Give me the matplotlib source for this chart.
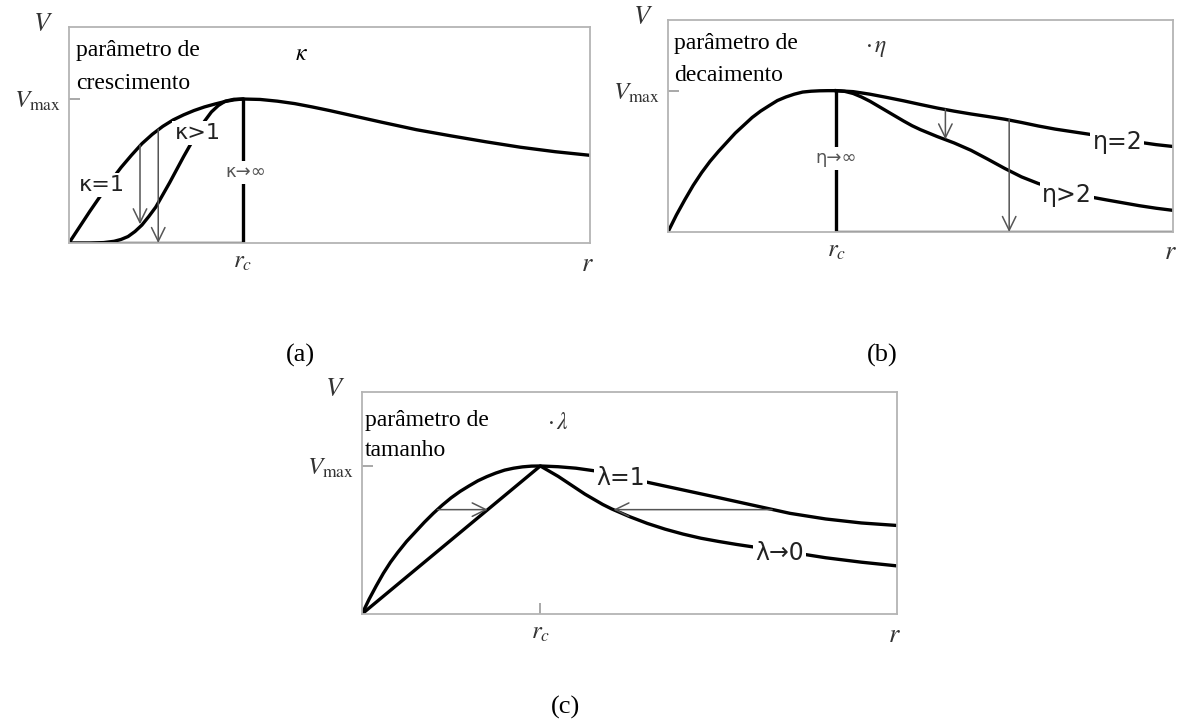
import matplotlib.pyplot as plt

plt.rcParams['font.family'] = ['Liberation Serif', 'DejaVu Serif']
plt.rcParams['mathtext.fontset'] = 'stix'

# ---- data (r in units of r_c, V in units of V_max) ----
# panel (a): growth parameter kappa
a_k1_r = [0, 0.06, 0.12, 0.18, 0.24, 0.3, 0.36, 0.42, 0.48, 0.54, 0.6, 0.66,
          0.72, 0.78, 0.84, 0.9, 0.95, 1.0,
          1.1, 1.2, 1.3, 1.4, 1.5, 1.6, 1.8, 2.0, 2.2, 2.4, 2.6, 2.8, 3.0]
a_k1_v = [0, 0.11, 0.22, 0.325, 0.43, 0.525, 0.61, 0.69, 0.755, 0.81, 0.855, 0.89,
          0.92, 0.945, 0.965, 0.983, 0.994, 1.0,
          0.997, 0.985, 0.968, 0.945, 0.92, 0.893, 0.839, 0.787, 0.744, 0.703,
          0.665, 0.634, 0.609]
a_kg_r = [0, 0.12, 0.2, 0.26, 0.3, 0.34, 0.38, 0.42, 0.46, 0.5, 0.54, 0.58,
          0.62, 0.66, 0.7, 0.74, 0.78, 0.82, 0.86, 0.9, 0.95, 1.0]
a_kg_v = [0, 0, 0.003, 0.012, 0.025, 0.045, 0.08, 0.125, 0.185, 0.25, 0.335, 0.42,
          0.51, 0.6, 0.685, 0.77, 0.845, 0.91, 0.955, 0.985, 0.998, 1.0]
a_kinf_r = [0, 1, 1]
a_kinf_v = [0, 0, 1]
a_arrow_r = [0.409, 0.514]
a_arrow_top = [0.68, 0.79]
a_arrow_bot = [0.13, 0.0]

# panel (b): decay parameter eta
b_rise_r = [0, 0.05, 0.1, 0.15, 0.2, 0.25, 0.3, 0.35, 0.4, 0.45, 0.5, 0.55,
            0.6, 0.65, 0.7, 0.75, 0.8, 0.85, 0.9, 0.95, 1.0]
b_rise_v = [0, 0.12, 0.228, 0.33, 0.42, 0.5, 0.57, 0.635, 0.7, 0.755, 0.81, 0.855,
            0.893, 0.93, 0.955, 0.975, 0.99, 0.996, 0.999, 1.0, 1.0]
b_e2_r = [1.0, 1.1, 1.2, 1.3, 1.4, 1.5, 1.6, 1.7, 1.8, 1.9, 2.0, 2.1, 2.2,
          2.3, 2.4, 2.5, 2.6, 2.7, 2.8, 2.9, 3.0]
b_e2_v = [1.0, 0.993, 0.975, 0.952, 0.928, 0.902, 0.877, 0.855, 0.835, 0.817,
          0.798, 0.775, 0.75, 0.728, 0.71, 0.692, 0.672, 0.652, 0.635, 0.618, 0.605]
b_eg_r = [1.0, 1.05, 1.1, 1.15, 1.2, 1.25, 1.3, 1.35, 1.4, 1.45, 1.5, 1.6, 1.7,
          1.8, 1.9, 2.0, 2.1, 2.2, 2.3, 2.4, 2.5, 2.6, 2.7, 2.8, 2.9, 3.0]
b_eg_v = [1.0, 0.995, 0.98, 0.955, 0.925, 0.89, 0.855, 0.82, 0.785, 0.752, 0.724,
          0.675, 0.63, 0.578, 0.515, 0.45, 0.39, 0.343, 0.305, 0.275, 0.25,
          0.228, 0.207, 0.186, 0.168, 0.153]
b_einf_r = [1, 1, 3]
b_einf_v = [1, 0, 0]
b_arrow_r = [1.648, 2.027]
b_arrow_top = [0.868, 0.796]
b_arrow_bot = [0.655, 0.0]

# panel (c): size parameter lambda
c_l1_r = [0, 0.04, 0.08, 0.12, 0.16, 0.2, 0.25, 0.3, 0.35, 0.4, 0.45, 0.5, 0.55,
          0.6, 0.65, 0.7, 0.75, 0.8, 0.85, 0.9, 0.95, 1.0,
          1.1, 1.2, 1.3, 1.4, 1.5, 1.6, 1.7, 1.8, 1.9, 2.0, 2.2, 2.4, 2.6, 2.8, 3.0]
c_l1_v = [0, 0.1, 0.19, 0.275, 0.35, 0.415, 0.49, 0.555, 0.62, 0.68, 0.735, 0.785,
          0.828, 0.865, 0.9, 0.928, 0.952, 0.972, 0.985, 0.994, 0.999, 1.0,
          0.995, 0.985, 0.968, 0.947, 0.92, 0.89, 0.864, 0.838, 0.812, 0.786,
          0.733, 0.68, 0.642, 0.615, 0.598]
c_l0_r = [0, 1.0, 1.05, 1.1, 1.15, 1.2, 1.25, 1.3, 1.35, 1.4, 1.5, 1.6, 1.7,
          1.8, 1.9, 2.0, 2.1, 2.2, 2.4, 2.6, 2.8, 3.0]
c_l0_v = [0, 1.0, 0.965, 0.93, 0.89, 0.85, 0.81, 0.775, 0.74, 0.71, 0.658, 0.612,
          0.573, 0.54, 0.512, 0.49, 0.47, 0.452, 0.418, 0.38, 0.35, 0.325]
c_arrow_v = 0.705
c_arrow_from = [0.423, 2.3]
c_arrow_to = [0.705, 1.41]

fig = plt.figure(figsize=(11.81, 7.22), dpi=100)
ax_a = fig.add_axes([0.0584, 0.6634, 0.4412, 0.2992])
ax_b = fig.add_axes([0.5656, 0.6787, 0.4276, 0.2936])
ax_c = fig.add_axes([0.3065, 0.1496, 0.4530, 0.3075])

lab_box = dict(facecolor='white', edgecolor='none', pad=1.5)
sans = ['DejaVu Sans']


def setup(ax):
    ax.set_xlim(0, 3)
    ax.set_ylim(0, 1.5)
    for s in ax.spines.values():
        s.set_color('#b4b4b4')
        s.set_linewidth(1.3)
    ax.set_yticks([1])
    ax.set_yticklabels([r'$V_{\mathrm{max}}$'])
    ax.set_xticks([1])
    ax.set_xticklabels([r'$r_c$'])
    ax.tick_params(direction='in', length=8, width=1.2, color='#999999',
                   labelsize=18, labelcolor='#333333', pad=6)
    ax.text(-0.05, 1.01, r'$V$', transform=ax.transAxes, fontsize=19,
            color='#333333', ha='center', va='center')
    ax.text(0.995, -0.1, r'$r$', transform=ax.transAxes, fontsize=19,
            color='#333333', ha='center', va='center')


def arrow(ax, start, end):
    ax.annotate('', xy=end, xytext=start,
                arrowprops=dict(arrowstyle='->,head_length=0.45,head_width=0.22',
                                color='#555555', lw=1.1, mutation_scale=22,
                                shrinkA=0, shrinkB=0), zorder=2)


# (a)
setup(ax_a)
ax_a.plot(a_k1_r, a_k1_v, color='black', lw=2.4, zorder=2)
ax_a.plot(a_kg_r, a_kg_v, color='black', lw=2.4, zorder=2)
ax_a.plot(a_kinf_r, a_kinf_v, color='black', lw=2.4, zorder=2,
          solid_joinstyle='miter')
for x, y0, y1 in zip(a_arrow_r, a_arrow_top, a_arrow_bot):
    arrow(ax_a, (x, y0), (x, y1))
ax_a.text(0.19, 0.4, 'κ=1', family=sans, fontsize=16, color='#222222',
          ha='center', va='center', bbox=lab_box, zorder=3)
ax_a.text(0.74, 0.765, 'κ>1', family=sans, fontsize=16, color='#222222',
          ha='center', va='center', bbox=lab_box, zorder=3)
ax_a.text(1.02, 0.49, 'κ→∞', family=sans, fontsize=13, color='#555555',
          ha='center', va='center', bbox=lab_box, zorder=3)
ax_a.text(0.04, 1.34, 'parâmetro de', fontsize=17, va='center')
ax_a.text(0.04, 1.11, 'crescimento', fontsize=17, va='center')
ax_a.text(1.3, 1.31, r'$\kappa$', fontsize=17, va='center')

# (b)
setup(ax_b)
ax_b.plot(b_rise_r, b_rise_v, color='black', lw=2.4, zorder=2)
ax_b.plot(b_e2_r, b_e2_v, color='black', lw=2.4, zorder=2)
ax_b.plot(b_eg_r, b_eg_v, color='black', lw=2.4, zorder=2)
ax_b.plot(b_einf_r, b_einf_v, color='black', lw=2.4, zorder=2,
          solid_joinstyle='miter')
for x, y0, y1 in zip(b_arrow_r, b_arrow_top, b_arrow_bot):
    arrow(ax_b, (x, y0), (x, y1))
ax_b.text(2.67, 0.64, 'η=2', family=sans, fontsize=17, color='#222222',
          ha='center', va='center', bbox=lab_box, zorder=3)
ax_b.text(2.37, 0.265, 'η>2', family=sans, fontsize=17, color='#222222',
          ha='center', va='center', bbox=lab_box, zorder=3)
ax_b.text(1.0, 0.52, 'η→∞', family=sans, fontsize=13, color='#555555',
          ha='center', va='center', bbox=lab_box, zorder=3)
ax_b.text(0.035, 1.335, 'parâmetro de', fontsize=17, va='center')
ax_b.text(0.035, 1.11, 'decaimento', fontsize=17, va='center')
ax_b.text(1.17, 1.3, r'$\cdot\,\eta$', fontsize=17, va='center', color='#333333')

# (c)
setup(ax_c)
ax_c.plot(c_l1_r, c_l1_v, color='black', lw=2.4, zorder=2)
ax_c.plot(c_l0_r, c_l0_v, color='black', lw=2.4, zorder=2)
for x0, x1 in zip(c_arrow_from, c_arrow_to):
    arrow(ax_c, (x0, c_arrow_v), (x1, c_arrow_v))
ax_c.text(1.45, 0.92, 'λ=1', family=sans, fontsize=17, color='#222222',
          ha='center', va='center', bbox=lab_box, zorder=3)
ax_c.text(2.34, 0.41, 'λ→0', family=sans, fontsize=17, color='#222222',
          ha='center', va='center', bbox=lab_box, zorder=3)
ax_c.text(0.015, 1.31, 'parâmetro de', fontsize=17, va='center')
ax_c.text(0.015, 1.105, 'tamanho', fontsize=17, va='center')
ax_c.text(1.04, 1.29, r'$\cdot\,\lambda$', fontsize=17, va='center', color='#333333')

fig.text(300 / 1181, 1 - 355 / 722, '(a)', fontsize=19, ha='center', va='center')
fig.text(882 / 1181, 1 - 355 / 722, '(b)', fontsize=19, ha='center', va='center')
fig.text(565 / 1181, 1 - 707 / 722, '(c)', fontsize=19, ha='center', va='center')

fig.savefig('out.png', dpi=100)
